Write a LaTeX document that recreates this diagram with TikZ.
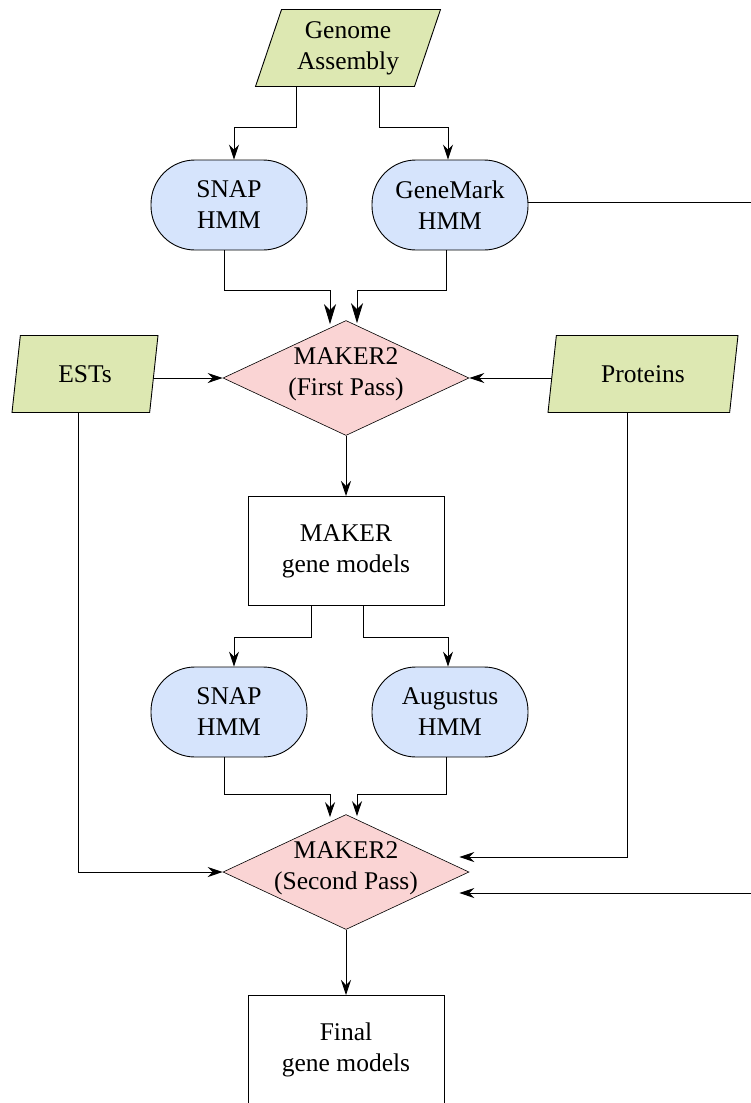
\documentclass[tikz,border=0pt]{standalone}
\usepackage{fontspec}
\setmainfont{Liberation Serif}
\usetikzlibrary{shapes.geometric,arrows.meta,calc}
\definecolor{pgreen}{HTML}{DDE8B2}
\definecolor{pblue}{HTML}{D6E4FC}
\definecolor{ppink}{HTML}{FAD4D4}
\begin{document}
\begin{tikzpicture}[x=1pt,y=-1pt,
  font=\fontsize{25.5}{31}\selectfont,
  para/.style={trapezium, trapezium left angle=64, trapezium right angle=116,
    trapezium stretches body, draw=black, line width=0.9pt, fill=pgreen,
    minimum height=77, inner sep=0pt, align=center},
  hmm/.style={rectangle, rounded corners=44pt, draw=black, line width=0.9pt, fill=pblue,
    minimum width=156, minimum height=90, inner sep=0pt, align=center},
  maker/.style={diamond, draw=black, line width=0.6pt, fill=ppink,
    minimum width=246, minimum height=115, inner sep=0pt},
  makertext/.style={align=center, inner sep=0pt},
  outbox/.style={rectangle, draw=black, line width=1pt, fill=white,
    minimum width=196, minimum height=109, inner sep=0pt, align=center},
  arr/.style={draw=black, line width=0.9pt, -{Stealth[length=15pt,width=10pt,inset=5pt]}},
  bigarr/.style={draw=black, line width=0.9pt, -{Stealth[length=20pt,width=12pt,inset=6pt]}}
]
\useasboundingbox (0,0) rectangle (751,1103);
\clip (0,0) rectangle (751,1103);

% nodes
\node[para, minimum width=185] (ga) at (348,48) {Genome\\Assembly};
\node[hmm] (snap1) at (229,205) {SNAP\\HMM};
\node[hmm] (gm) at (450,205) {GeneMark\\HMM};
\node[maker] (mk1) at (346,378) {};
\node[makertext] (mk1t) at (346,374) {MAKER2\\(First Pass)};
\node[para, minimum width=146] (est) at (85,374) {ESTs};
\node[para, minimum width=190] (prot) at (643,374) {Proteins};
\node[outbox] (mgm) at (346,551) {MAKER\\gene models};
\node[hmm] (snap2) at (229,712) {SNAP\\HMM};
\node[hmm] (aug) at (450,712) {Augustus\\HMM};
\node[maker] (mk2) at (346,872) {};
\node[makertext] (mk2t) at (346,868) {MAKER2\\(Second Pass)};
\node[outbox] (fin) at (346,1050) {Final\\gene models};
\coordinate (rt) at (752.5,893);

% connectors
\draw[arr] ($(ga.south)+(-52,0)$) -- ++(0,40) -| ($(snap1.north)+(5,0)$);
\draw[arr] ($(ga.south)+(31,0)$) -- ++(0,40) -| ($(gm.north)+(-2,0)$);
\draw[bigarr] ($(snap1.south)+(-5,0)$) |- ($(mk1.north)+(-16,-30)$) -- ($(mk1.north)+(-16,4)$);
\draw[bigarr] ($(gm.south)+(-4,0)$) |- ($(mk1.north)+(11,-30)$) -- ($(mk1.north)+(11,3)$);
\draw[arr] ($(gm.east)+(0,-3)$) -| (rt) -- ($(mk2.east)+(-10,21)$);
\draw[arr] (est.east |- mk1.west) -- (mk1.west);
\draw[arr] (prot.west |- mk1.east) -- (mk1.east);
\draw[arr] ($(est.south)+(-7,0)$) |- (mk2.west);
\draw[arr] ($(prot.south)+(-16,0)$) |- ($(mk2.east)+(-10,-15)$);
\draw[arr] (mk1.south) -- (mgm.north);
\draw[arr] ($(mgm.south)+(-35,0)$) -- ++(0,31) -| ($(snap2.north)+(5,0)$);
\draw[arr] ($(mgm.south)+(17,0)$) -- ++(0,31) -| ($(aug.north)+(-2,0)$);
\draw[arr] ($(snap2.south)+(-5,0)$) |- ($(mk2.north)+(-16,-20)$) -- ($(mk2.north)+(-16,3)$);
\draw[arr] ($(aug.south)+(-4,0)$) |- ($(mk2.north)+(11,-20)$) -- ($(mk2.north)+(11,2)$);
\draw[arr] (mk2.south) -- (fin.north);
\end{tikzpicture}
\end{document}
